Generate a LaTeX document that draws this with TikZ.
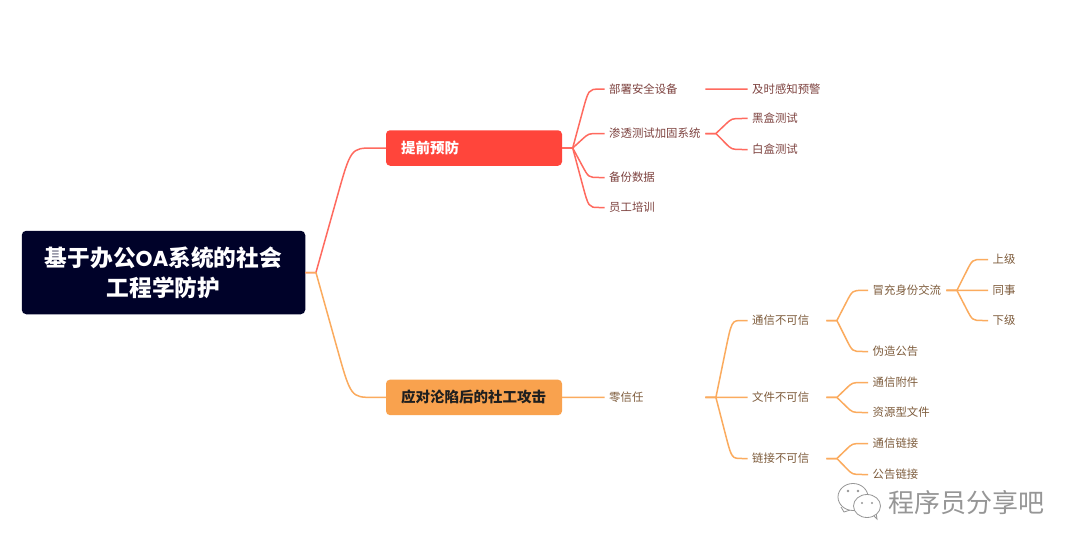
\documentclass[tikz,border=0pt]{standalone}
\usepackage{fontspec}
\setmainfont{Noto Sans CJK SC}
\newfontfamily\oafont{Poppins}[Scale=0.95]
\usetikzlibrary{calc}
\definecolor{redline}{HTML}{FF6A5F}
\definecolor{orgline}{HTML}{FBAB5E}
\definecolor{redfill}{HTML}{FF453B}
\definecolor{orgfill}{HTML}{F9A24E}
\definecolor{rootfill}{HTML}{000229}
\definecolor{redtext}{HTML}{7E4340}
\definecolor{orgtext}{HTML}{7E5C3C}
\definecolor{wmgray}{HTML}{969696}
\tikzset{
  lbl/.style={anchor=west,inner xsep=4.5pt,inner ysep=0pt,align=left,
    font=\fontsize{11.4}{14}\selectfont},
  lblred/.style={lbl,text=redtext},
  lblorg/.style={lbl,text=orgtext},
  branchbox/.style={anchor=center,rounded corners=4pt,minimum height=35.5pt,
    text width=146pt,inner xsep=15pt,inner ysep=0pt,align=left,
    font=\fontsize{14.5}{17}\selectfont\bfseries},
  rootbox/.style={fill=rootfill,text=white,rounded corners=4.5pt,
    minimum width=283.5pt,minimum height=83.5pt,align=center,
    font=\fontsize{22.7}{30}\selectfont\bfseries},
  linkred/.style={draw=redline,line width=1.5pt,line join=round},
  linkorg/.style={draw=orgline,line width=1.5pt,line join=round},
}
\newcommand{\conn}[3]{%
  \coordinate (e) at ($(#2.east)+(10.5,0)$);
  \coordinate (m) at ($(e)!.5!(#3.west)$);
  \coordinate (c) at (m |- #3.west);
  \draw[#1] (#2.east) -- (e) -- ($(e)!.6!(c)$) .. controls (c) .. ($(c)!.65!(#3.west)$) -- (#3.west);
}
\begin{document}
\begin{tikzpicture}[x=1pt,y=-1pt]
\useasboundingbox[fill=white] (0,0) rectangle (1080,551);
% main nodes
\node[rootbox] (root) at (163.5,272.5) {基于办公{\oafont OA}系统的社会\\工程学防护};
\node[branchbox,fill=redfill,text=white] (pre) at (474,148) {提前预防};
\node[branchbox,fill=orgfill,text=black!88] (post) at (474,397.4) {应对沦陷后的社工攻击};
% red branch
\node[lblred,text width=91.5pt] (a1) at (604.5,89.2) {部署安全设备};
\node[lblred,text width=91.5pt] (a2) at (604.5,133.5) {渗透测试加固系统};
\node[lblred,text width=91.5pt] (a3) at (604.5,177.5) {备份数据};
\node[lblred,text width=91.5pt] (a4) at (604.5,207.5) {员工培训};
\node[lblred,text width=90pt] (b1) at (747.5,89.2) {及时感知预警};
\node[lblred,text width=90pt] (b2) at (747.5,118.5) {黑盒测试};
\node[lblred,text width=90pt] (b3) at (747.5,149.5) {白盒测试};
% orange branch
\node[lblorg,text width=91.5pt] (z) at (604.5,397.4) {零信任};
\node[lblorg,text width=69.5pt] (t1) at (747.5,320.5) {通信不可信};
\node[lblorg,text width=69.5pt] (t2) at (747.5,397.4) {文件不可信};
\node[lblorg,text width=69.5pt] (t3) at (747.5,458.5) {链接不可信};
\node[lblorg,text width=69pt] (u1) at (868,290.4) {冒充身份交流};
\node[lblorg,text width=90pt] (u2) at (868,351.5) {伪造公告};
\node[lblorg,text width=90pt] (u3) at (868,382.5) {通信附件};
\node[lblorg,text width=90pt] (u4) at (868,412.5) {资源型文件};
\node[lblorg,text width=90pt] (u5) at (868,443.5) {通信链接};
\node[lblorg,text width=90pt] (u6) at (868,474.5) {公告链接};
\node[lblorg,text width=40pt] (v1) at (988,259.5) {上级};
\node[lblorg,text width=40pt] (v2) at (988,290.4) {同事};
\node[lblorg,text width=40pt] (v3) at (988,320.5) {下级};
% connectors
\conn{linkred}{root}{pre}
\conn{linkorg}{root}{post}
\conn{linkred}{pre}{a1}
\conn{linkred}{pre}{a2}
\conn{linkred}{pre}{a3}
\conn{linkred}{pre}{a4}
\conn{linkred}{a1}{b1}
\conn{linkred}{a2}{b2}
\conn{linkred}{a2}{b3}
\conn{linkorg}{post}{z}
\conn{linkorg}{z}{t1}
\conn{linkorg}{z}{t2}
\conn{linkorg}{z}{t3}
\conn{linkorg}{t1}{u1}
\conn{linkorg}{t1}{u2}
\conn{linkorg}{t2}{u3}
\conn{linkorg}{t2}{u4}
\conn{linkorg}{t3}{u5}
\conn{linkorg}{t3}{u6}
\conn{linkorg}{u1}{v1}
\conn{linkorg}{u1}{v2}
\conn{linkorg}{u1}{v3}
% watermark
\node[anchor=west,inner sep=0pt,text=wmgray,font=\fontsize{26}{30}\selectfont] (wm) at (888,503) {程序员分享吧};
\draw[wmgray,line width=0.8pt,fill=white] (841,507) -- (844,512) -- (850,510);
\draw[wmgray,line width=0.8pt,fill=white] (853,497) ellipse [x radius=15,y radius=13.5];
\draw[wmgray,line width=0.8pt] (873,515) -- (877,519) -- (876,512);
\draw[wmgray,line width=0.8pt,fill=white] (867,506) ellipse [x radius=13.5,y radius=11.5];
\fill[wmgray] (848,491) circle (1.3) (858,491) circle (1.3) (862,503) circle (1.2) (872,503) circle (1.2);
\end{tikzpicture}
\end{document}
